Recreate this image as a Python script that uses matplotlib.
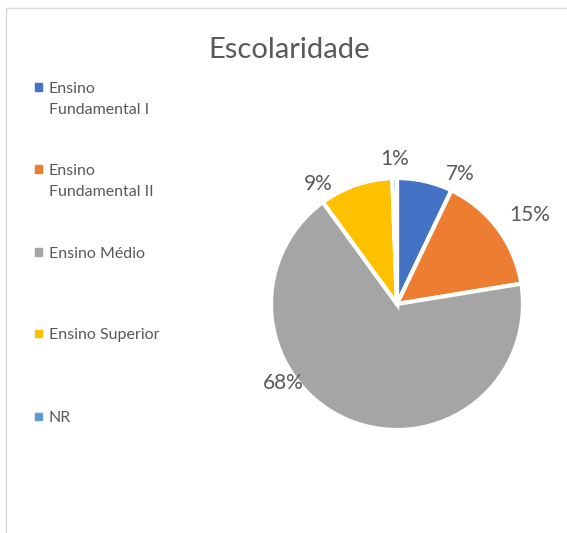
import numpy as np
import matplotlib.pyplot as plt
from matplotlib.patches import Rectangle

categorias = ['Ensino\nFundamental I', 'Ensino\nFundamental II', 'Ensino Médio',
              'Ensino Superior', 'NR']
valores = [7.1, 15.3, 67.5, 9.4, 0.6]
cores = ['#4472C4', '#ED7D31', '#A5A5A5', '#FFC000', '#5B9BD5']
titulo = 'Escolaridade'

# label placement (radius factor, angle shift in degrees) - mimics excel "best fit"
lab_r = [1.15, 1.27, 1.10, 1.14, 1.15]
lab_shift = [-13, -3, -33, 14, 0]

plt.rcParams['font.family'] = ['Lato', 'DejaVu Sans']
txt = '#595959'

fig = plt.figure(figsize=(5.67, 5.33), dpi=100)
W, H = 567, 533

# chart border (only left/top visible)
fig.patches.append(Rectangle((6 / W, -0.1), 1.2, (533 - 8) / H + 0.1,
                             transform=fig.transFigure, fill=False,
                             edgecolor='#D9D9D9', linewidth=1))

fig.text(289 / W, 1 - 50 / H, titulo, ha='center', va='center',
         fontsize=21, color=txt)

cx, cy, R = 397, 304, 126
ax = fig.add_axes([(cx - R) / W, (H - cy - R) / H, 2 * R / W, 2 * R / H])
wedges, texts, autotexts = ax.pie(valores, colors=cores, startangle=90,
                                  counterclock=False, radius=1,
                                  autopct=lambda p: '%d%%' % round(p),
                                  wedgeprops=dict(edgecolor='white', linewidth=3),
                                  textprops=dict(color=txt, fontsize=15))
ax.set_xlim(-1, 1)
ax.set_ylim(-1, 1)
ax.axis('off')

for w, t, r, s in zip(wedges, autotexts, lab_r, lab_shift):
    ang = np.deg2rad((w.theta1 + w.theta2) / 2 + s)
    t.set_position((r * np.cos(ang), r * np.sin(ang)))
    t.set_ha('center')
    t.set_va('center')

# legend on the left
ys = [87, 169, 252, 333, 416]   # center of first line of each entry
for cat, c, y in zip(categorias, cores, ys):
    fig.patches.append(Rectangle((35 / W, 1 - (y + 3.5) / H), 7 / W, 7 / H,
                                 transform=fig.transFigure, color=c))
    fig.text(49 / W, 1 - (y - 5) / H, cat, ha='left', va='top',
             fontsize=11.5, color=txt, linespacing=1.65)

fig.savefig('out.png', dpi=100)
